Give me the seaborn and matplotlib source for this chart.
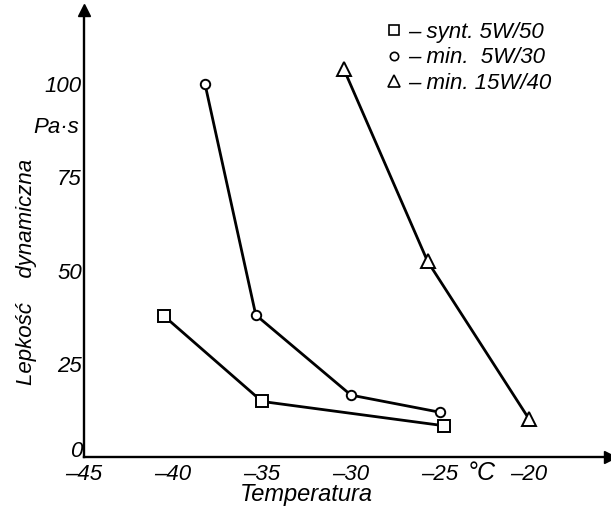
import matplotlib
matplotlib.use("Agg")
import matplotlib.pyplot as plt
import matplotlib.transforms as mtransforms
import seaborn as sns
import pandas as pd
from matplotlib.lines import Line2D

# Data
synt_5w50_t = [-40.5, -35.0, -24.8]
synt_5w50_v = [37.8, 14.9, 8.4]
min_5w30_t = [-38.2, -35.35, -30.0, -25.0]
min_5w30_v = [100.0, 38.1, 16.6, 12.0]
min_15w40_t = [-30.4, -25.7, -20.0]
min_15w40_v = [104.0, 52.5, 10.2]

series_labels = ["– synt. 5W/50", "– min.  5W/30", "– min. 15W/40"]
series_markers = ["s", "o", "^"]
x_ticks = [-45, -40, -35, -30, -25, -20]
y_ticks = [0, 25, 50, 75, 100]

sns.set_style("white")
plt.rcParams["font.family"] = ["Liberation Sans", "DejaVu Sans"]
plt.rcParams["font.style"] = "italic"
plt.rcParams["text.color"] = "black"

fig = plt.figure(figsize=(6.11, 5.08), dpi=100)
ax = fig.add_axes([84 / 611, 51 / 508, 526 / 611, 447 / 508])

all_series = [(synt_5w50_t, synt_5w50_v), (min_5w30_t, min_5w30_v), (min_15w40_t, min_15w40_v)]
sizes = [8, 6.8, 9.5]
for (t, v), m, ms in zip(all_series, series_markers, sizes):
    df = pd.DataFrame({"t": t, "v": v})
    sns.lineplot(data=df, x="t", y="v", sort=False, ax=ax, color="black", lw=2.0,
                 marker=m, markersize=ms, markerfacecolor="white",
                 markeredgecolor="black", markeredgewidth=1.4)

ax.set_xlim(-45, -15.45)
ax.set_ylim(0, 119.9)
ax.set_xticks(x_ticks)
ax.set_xticklabels([str(x).replace("-", "–") for x in x_ticks])
ax.set_yticks(y_ticks)
ax.set_yticklabels([str(y) for y in y_ticks])
ax.tick_params(direction="in", length=6, width=1.2, labelsize=16, colors="black")
ax.tick_params(axis="x", pad=5)
ax.tick_params(axis="y", pad=1.5)
for lbl in ax.get_yticklabels():
    if lbl.get_text() == "0":
        lbl.set_transform(lbl.get_transform() +
                          mtransforms.ScaledTranslation(0, 8 / 100, fig.dpi_scale_trans))

for s in ["top", "right"]:
    ax.spines[s].set_visible(False)
for s in ["left", "bottom"]:
    ax.spines[s].set_color("black")
    ax.spines[s].set_linewidth(1.7)

# arrow heads
ax.plot(1, 0, ">", color="black", markersize=9, transform=ax.transAxes, clip_on=False)
ax.plot(0, 1, "^", color="black", markersize=9, transform=ax.transAxes, clip_on=False)

ax.set_xlabel("Temperatura", fontsize=17, color="black", va="center")
ax.xaxis.set_label_coords(0.422, -0.085)
ax.set_ylabel("Lepkość    dynamiczna", fontsize=16, color="black", va="center")
ax.yaxis.set_label_coords(-0.11, 0.415)
ax.text(-22.65, -4.4, "°C", fontsize=18, ha="center", va="center")
ax.text(-45.28, 88.5, "Pa·s", fontsize=16, ha="right", va="center", clip_on=False)

# legend
handles = [Line2D([], [], ls="none", marker=m, color="black", mfc="white",
                  markersize=ms, markeredgewidth=1.2)
           for m, ms in zip(series_markers, [6.5, 6.0, 8])]
ax.legend(handles, series_labels, loc="upper left", bbox_to_anchor=(0.576, 0.974),
          frameon=False, fontsize=16, handlelength=0.6, handletextpad=0.35,
          labelspacing=0.21, borderpad=0, borderaxespad=0, labelcolor="black")

fig.savefig("out.png", dpi=100)
